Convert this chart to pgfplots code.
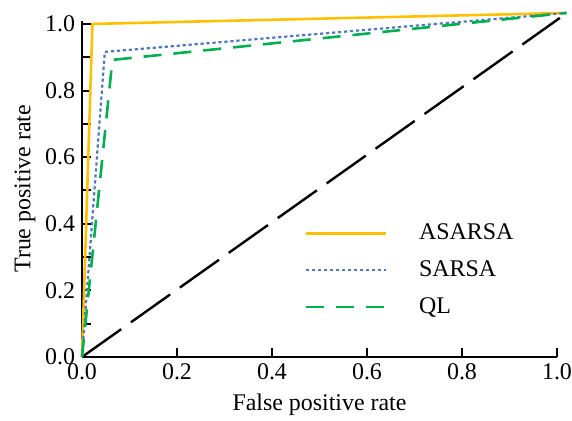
\documentclass[border=0pt]{standalone}
\usepackage{fontspec}
\setmainfont{Liberation Serif}
\usepackage{pgfplots}
\pgfplotsset{compat=1.18}
\definecolor{cgold}{HTML}{FFC000}
\definecolor{cblue}{HTML}{4F77BE}
\definecolor{cgreen}{HTML}{00B050}
\begin{document}
\begin{tikzpicture}
\useasboundingbox (-41bp,-32bp) rectangle (245bp,178.5bp);
\begin{axis}[
  at={(0,0)}, anchor=south west,
  scale only axis, width=237.5bp, height=168.2bp,
  xmin=0, xmax=1, ymin=0, ymax=1.01,
  axis lines*=left,
  axis line style={line width=1.2bp},
  tick align=inside,
  major tick length=4.5bp, minor tick length=4.5bp,
  every tick/.style={black, line width=1bp},
  xtick={0,0.2,0.4,0.6,0.8,1.0},
  xticklabels={0.0,0.2,0.4,0.6,0.8,1.0},
  ytick={0,0.2,0.4,0.6,0.8,1.0},
  yticklabels={0.0,0.2,0.4,0.6,0.8,1.0},
  minor ytick={0.1,0.3,0.5,0.7,0.9},
  tick label style={font=\fontsize{12}{14}\selectfont},
  label style={font=\fontsize{12}{14}\selectfont},
  xlabel={False positive rate},
  ylabel={True positive rate},
  xlabel style={yshift=0bp},
  ylabel style={yshift=-2bp},
  clip=false,
  legend style={draw=none, fill=none, font=\fontsize{12}{14}\selectfont,
    at={(axis cs:0.455,0.425)}, anchor=north west, row sep=5bp, column sep=14bp},
  legend cell align=left,
  legend image code/.code={\draw[#1] (0bp,0bp) -- (40bp,0bp);},
]
\addplot[black, line width=1.2bp, dash pattern=on 24bp off 6bp, forget plot] coordinates {(0,0) (1.006,1.018)};
\addplot[cgold, line width=1.3bp] coordinates {(0,0) (0.022,1.0) (1.02,1.033)};
\addlegendentry{ASARSA}
\addplot[cblue, line width=1.1bp, dash pattern=on 1.6bp off 1.4bp] coordinates {(0,0) (0.048,0.916) (1.02,1.033)};
\addlegendentry{SARSA}
\addplot[cgreen, line width=1.3bp, dash pattern=on 9bp off 6bp] coordinates {(0,0) (0.064,0.892) (1.02,1.033)};
\addlegendentry{QL}
\end{axis}
\end{tikzpicture}
\end{document}
